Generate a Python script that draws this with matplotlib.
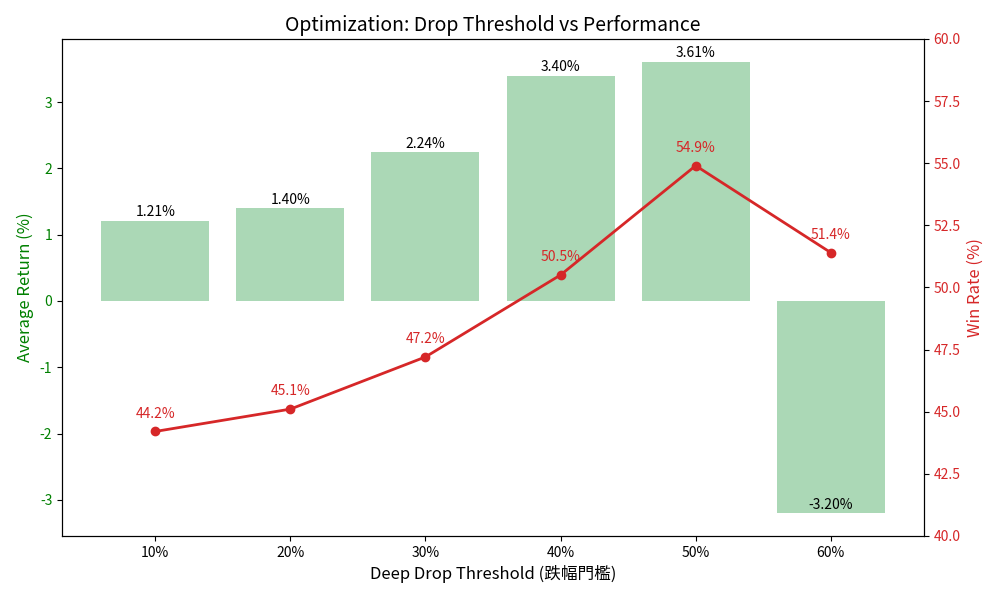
import matplotlib
matplotlib.use("Agg")
import matplotlib.pyplot as plt

plt.rcParams['font.family'] = ['Noto Sans CJK TC', 'DejaVu Sans']
plt.rcParams['axes.unicode_minus'] = False

thresholds = ['10%', '20%', '30%', '40%', '50%', '60%']
avg_return = [1.21, 1.40, 2.24, 3.40, 3.61, -3.20]
win_rate = [44.2, 45.1, 47.2, 50.5, 54.9, 51.4]

fig, ax1 = plt.subplots(figsize=(10, 6), dpi=100)
x = range(len(thresholds))
bars = ax1.bar(x, avg_return, width=0.8, color='#abd8b6')
for xi, v in zip(x, avg_return):
    ax1.annotate(f'{v:.2f}%', (xi, v), textcoords='offset points', xytext=(0, 1),
                 ha='center', va='bottom', fontsize=10, color='black')
ax1.set_xticks(list(x))
ax1.set_xticklabels(thresholds)
ax1.set_xlabel('Deep Drop Threshold (跌幅門檻)', fontsize=12)
ax1.set_ylabel('Average Return (%)', color='green', fontsize=12)
ax1.tick_params(axis='y', labelcolor='green')

ax2 = ax1.twinx()
ax2.plot(list(x), win_rate, color='#d62728', marker='o', linewidth=2)
for xi, v in zip(x, win_rate):
    ax2.annotate(f'{v:.1f}%', (xi, v), textcoords='offset points', xytext=(0, 10),
                 ha='center', color='#d62728', fontsize=10)
ax2.set_ylim(40, 60)
ax2.set_ylabel('Win Rate (%)', color='#d62728', fontsize=12)
ax2.tick_params(axis='y', labelcolor='#d62728')

ax1.set_title('Optimization: Drop Threshold vs Performance', fontsize=14)
fig.subplots_adjust(left=0.062, right=0.924, top=0.935, bottom=0.107)
fig.savefig('out.png')
